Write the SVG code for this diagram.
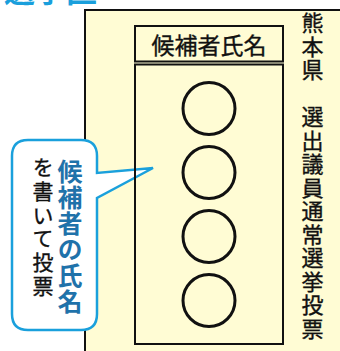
<svg xmlns="http://www.w3.org/2000/svg" width="340" height="351" viewBox="0 0 340 351">
<style>
.jp{font-family:"Noto Sans CJK JP","Noto Sans CJK SC",sans-serif;}
.blk{fill:#111;stroke:#111;stroke-width:0.35;}
.vt{writing-mode:vertical-rl;}
.ln{fill:none;stroke:#111;stroke-width:2;}
.circ{fill:none;stroke:#111;stroke-width:3;}
</style>
<rect width="340" height="351" fill="#ffffff"/>
<text class="jp" x="4" y="2" font-size="31" font-weight="bold" fill="#1a9fdc">選挙区</text>
<g id="ballot">
<rect x="85" y="10" width="300" height="400" fill="#fffcd4" stroke="#111" stroke-width="2"/>
</g>
<g id="bubble">
<path d="M28,140 H81 Q97,140 97,156 V173 L153,168 L97,198 V314 Q97,330 81,330 H28 Q12,330 12,314 V156 Q12,140 28,140 Z" fill="#ffffff" stroke="#1aa0dc" stroke-width="2.5" stroke-linejoin="miter"/>
<text class="jp vt" x="70" y="158.5" font-size="25" font-weight="bold" letter-spacing="1" fill="#1f72aa">候補者の氏名</text>
<text class="jp vt blk" x="43" y="156.5" font-size="21" letter-spacing="2.8">を書いて投票</text>
</g>
<g id="header">
<rect class="ln" x="135" y="26" width="148" height="35.5"/>
<text class="jp blk" x="209" y="53.5" font-size="23" text-anchor="middle">候補者氏名</text>
</g>
<g id="body">
<rect class="ln" x="135" y="64.5" width="148" height="279.5"/>
<circle class="circ" cx="209" cy="108.5" r="26"/>
<circle class="circ" cx="209" cy="172.5" r="26"/>
<circle class="circ" cx="209" cy="236.5" r="26"/>
<circle class="circ" cx="209" cy="300.5" r="26"/>
</g>
<g id="title-vertical">
<text class="jp vt blk" x="312.5" y="12" font-size="22" letter-spacing="1.5">熊本県　選出議員通常選挙投票</text>
</g>
<g id="connectors"></g>
</svg>
